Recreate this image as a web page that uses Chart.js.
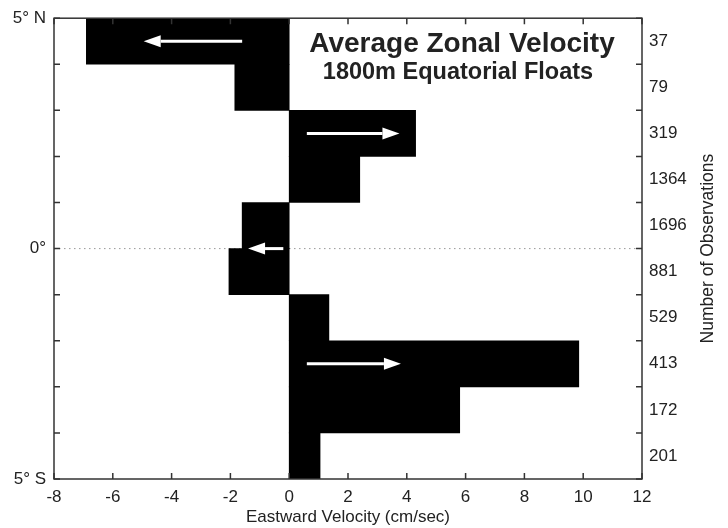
<!DOCTYPE html>
<html>
<head>
<meta charset="utf-8">
<script src="https://cdn.jsdelivr.net/npm/chart.js@4.4.1/dist/chart.umd.min.js"></script>
<style>
  html, body { margin: 0; padding: 0; background: #fff; }
</style>
</head>
<body>
<canvas id="zonal" width="728" height="528"></canvas>
<script>
// Latitude bins, north to south
const latBins = ['4°N-5°N', '3°N-4°N', '2°N-3°N', '1°N-2°N', '0°-1°N', '0°-1°S', '1°S-2°S', '2°S-3°S', '3°S-4°S', '4°S-5°S'];
// Mean eastward velocity in each bin (cm/sec)
const velocity = [-6.9, -1.85, 4.3, 2.4, -1.6, -2.05, 1.35, 9.85, 5.8, 1.05];
// Number of float observations in each bin
const observations = [37, 79, 319, 1364, 1696, 881, 529, 413, 172, 201];
// Labelled latitudes on the left axis
const latTickValues = [5, 0, -5];
const latTickLabels = ['5° N', '0°', '5° S'];
// Flow arrows: latitude, tail and tip (cm/sec)
const arrowLat = [4.5, 2.5, 0, -2.5];
const arrowFrom = [-1.6, 0.6, -0.2, 0.6];
const arrowTo = [-4.95, 3.75, -1.4, 3.8];

const FONT = "'Liberation Sans', Arial, Helvetica, sans-serif";
const INK = '#222';
const AXIS = '#333';

function drawArrow(ctx, x1, x2, y) {
    const dir = Math.sign(x2 - x1);
    const head = 17;
    ctx.beginPath();
    ctx.moveTo(x1, y);
    ctx.lineTo(x2 - dir * head, y);
    ctx.stroke();
    ctx.beginPath();
    ctx.moveTo(x2, y);
    ctx.lineTo(x2 - dir * head, y - 6);
    ctx.lineTo(x2 - dir * head, y + 6);
    ctx.closePath();
    ctx.fill();
}

const decorations = {
    id: 'decorations',
    beforeDatasetsDraw(chart) {
        // dotted equator
        const { ctx, chartArea: a, scales } = chart;
        const y0 = scales.lat.getPixelForValue(0);
        ctx.save();
        ctx.strokeStyle = '#999';
        ctx.lineWidth = 1;
        ctx.setLineDash([1.5, 3.5]);
        ctx.beginPath();
        ctx.moveTo(a.left, y0);
        ctx.lineTo(a.right, y0);
        ctx.stroke();
        ctx.restore();
    },
    afterDatasetsDraw(chart) {
        const { ctx, scales } = chart;
        ctx.save();
        ctx.strokeStyle = '#fff';
        ctx.fillStyle = '#fff';
        ctx.lineWidth = 3;
        arrowLat.forEach((lat, i) => {
            drawArrow(ctx, scales.x.getPixelForValue(arrowFrom[i]),
                scales.x.getPixelForValue(arrowTo[i]), scales.lat.getPixelForValue(lat));
        });
        ctx.restore();
    },
    afterDraw(chart) {
        const { ctx, chartArea: a, scales } = chart;
        ctx.save();
        ctx.strokeStyle = AXIS;
        ctx.lineWidth = 1.5;
        ctx.strokeRect(a.left, a.top, a.right - a.left, a.bottom - a.top);

        // inward tick marks on all four sides
        const len = 6;
        ctx.beginPath();
        scales.x.ticks.forEach(t => {
            const x = scales.x.getPixelForValue(t.value);
            ctx.moveTo(x, a.bottom); ctx.lineTo(x, a.bottom - len);
            ctx.moveTo(x, a.top); ctx.lineTo(x, a.top + len);
        });
        scales.lat.ticks.forEach(t => {
            const y = scales.lat.getPixelForValue(t.value);
            ctx.moveTo(a.left, y); ctx.lineTo(a.left + len, y);
            ctx.moveTo(a.right, y); ctx.lineTo(a.right - len, y);
        });
        ctx.stroke();

        // titles inside the plot
        ctx.fillStyle = INK;
        ctx.textAlign = 'center';
        ctx.textBaseline = 'middle';
        ctx.font = 'bold 28px ' + FONT;
        ctx.fillText('Average Zonal Velocity', 462, 44);
        ctx.font = 'bold 23.5px ' + FONT;
        ctx.fillText('1800m Equatorial Floats', 458, 73);

        // right axis title, reading upward
        ctx.font = '17.5px ' + FONT;
        ctx.translate(708, (a.top + a.bottom) / 2);
        ctx.rotate(-Math.PI / 2);
        ctx.fillText('Number of Observations', 0, 0);
        ctx.restore();
    }
};

new Chart(document.getElementById('zonal'), {
    type: 'bar',
    data: {
        labels: latBins,
        datasets: [{
            data: velocity,
            backgroundColor: '#000',
            borderWidth: 0,
            barPercentage: 1,
            categoryPercentage: 1,
            xAxisID: 'x',
            yAxisID: 'y'
        }]
    },
    options: {
        indexAxis: 'y',
        responsive: false,
        animation: false,
        layout: { padding: { top: 16, left: 0, right: 0, bottom: 0 } },
        plugins: { legend: { display: false }, tooltip: { enabled: false } },
        scales: {
            x: {
                type: 'linear',
                min: -8,
                max: 12,
                grid: { display: false, drawTicks: false },
                border: { display: false },
                ticks: { stepSize: 2, autoSkip: false, maxRotation: 0, padding: 8, color: INK, font: { family: FONT, size: 17 } },
                title: { display: true, text: 'Eastward Velocity (cm/sec)', color: INK, padding: 0, font: { family: FONT, size: 17 } },
                afterFit(s) { s.height = 49; }
            },
            y: {
                type: 'category',
                offset: true,
                display: false
            },
            lat: {
                axis: 'y',
                type: 'linear',
                position: 'left',
                min: -5,
                max: 5,
                offset: false,
                grid: { display: false, drawTicks: false },
                border: { display: false },
                ticks: {
                    stepSize: 1,
                    autoSkip: false,
                    padding: 8,
                    color: INK,
                    font: { family: FONT, size: 17 },
                    callback: v => {
                        const i = latTickValues.indexOf(v);
                        return i >= 0 ? latTickLabels[i] : '';
                    }
                },
                afterFit(s) { s.width = 54; }
            },
            obs: {
                axis: 'y',
                type: 'category',
                position: 'right',
                labels: observations.map(String),
                offset: true,
                grid: { display: false, drawTicks: false },
                border: { display: false },
                ticks: { autoSkip: false, padding: 7, color: INK, font: { family: FONT, size: 17 } },
                afterFit(s) { s.width = 86; }
            }
        }
    },
    plugins: [decorations]
});
</script>
</body>
</html>
